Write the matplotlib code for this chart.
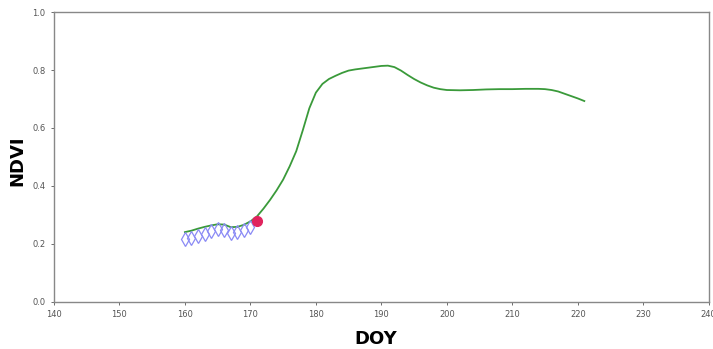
import matplotlib
matplotlib.use("Agg")
import matplotlib.pyplot as plt

# Smoothed NDVI curve
curve_doy = [160, 161, 162, 163, 164, 165, 166, 167, 168, 169, 170, 171, 172, 173, 174, 175,
             176, 177, 178, 179, 180, 181, 182, 183, 184, 185, 186, 187, 188, 189, 190, 191,
             192, 193, 194, 195, 196, 197, 198, 199, 200, 202, 204, 206, 208, 210, 212, 214,
             215, 216, 217, 218, 219, 220, 221]
curve_ndvi = [0.241, 0.246, 0.253, 0.259, 0.264, 0.268, 0.267, 0.258, 0.259, 0.266, 0.278, 0.295,
              0.322, 0.352, 0.385, 0.422, 0.468, 0.52, 0.592, 0.668, 0.722, 0.752, 0.769, 0.78,
              0.79, 0.798, 0.802, 0.805, 0.808, 0.811, 0.814, 0.815, 0.81, 0.798, 0.783, 0.769,
              0.757, 0.747, 0.739, 0.734, 0.731, 0.730, 0.731, 0.733, 0.734, 0.734, 0.735, 0.735,
              0.734, 0.731, 0.726, 0.718, 0.71, 0.702, 0.693]

# Observed points (open diamonds)
obs_doy = [160, 161, 162, 163, 164, 165, 166, 167, 168, 169, 170]
obs_ndvi = [0.218, 0.222, 0.228, 0.236, 0.244, 0.25, 0.248, 0.238, 0.24, 0.248, 0.258]

# Current point (filled circle)
cur_doy = [171]
cur_ndvi = [0.278]

x_ticks = [140, 150, 160, 170, 180, 190, 200, 210, 220, 230, 240]
y_ticks = [0.0, 0.2, 0.4, 0.6, 0.8, 1.0]

fig = plt.figure(figsize=(7.13, 3.49), dpi=100)
ax = fig.add_axes([0.0757, 0.1347, 0.9183, 0.8309])

ax.plot(curve_doy, curve_ndvi, color="#3a9a3a", lw=1.3, zorder=2)
ax.plot(obs_doy, obs_ndvi, linestyle="none", marker="d", markersize=7.5,
        markerfacecolor="none", markeredgecolor="#8a8af5", markeredgewidth=0.9, zorder=3)
ax.plot(cur_doy, cur_ndvi, linestyle="none", marker="o", markersize=7,
        color="#e0245e", zorder=4)

ax.set_xlim(140, 240)
ax.set_ylim(0, 1.0)
ax.set_xticks(x_ticks)
ax.set_yticks(y_ticks)
ax.set_xticklabels([str(t) for t in x_ticks])
ax.set_yticklabels([f"{t:.1f}" for t in y_ticks])
ax.tick_params(labelsize=6, colors="#555555", length=2.5, width=0.6)
for s in ax.spines.values():
    s.set_color("#888888")
    s.set_linewidth(1.0)

fig.text(0.527, 0.03, "DOY", fontsize=13, fontweight="bold", ha="center", va="center")
fig.text(0.025, 0.54, "NDVI", fontsize=13, fontweight="bold", ha="center", va="center",
         rotation=90)

fig.savefig("out.png", dpi=100)
